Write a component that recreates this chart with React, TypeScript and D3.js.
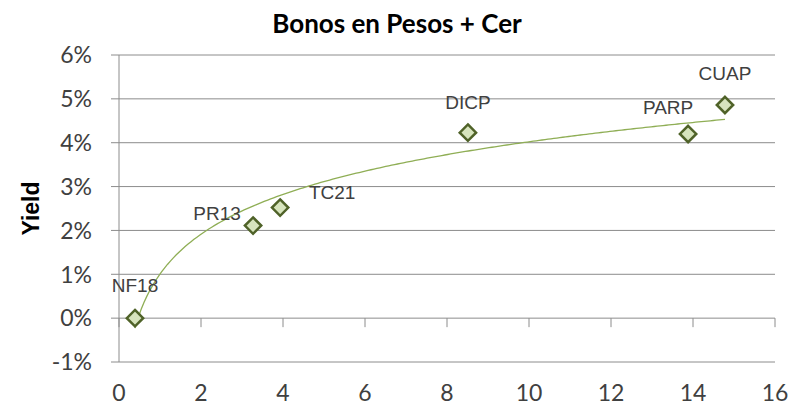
import React, { useEffect, useRef } from 'react';
import * as d3 from 'd3';

// bonds: duration (years) vs yield (%)
const names = ['NF18', 'PR13', 'TC21', 'DICP', 'PARP', 'CUAP'];
const durations = [0.39, 3.27, 3.93, 8.51, 13.88, 14.78];
const yields = [0.0, 2.11, 2.52, 4.23, 4.2, 4.86];
// hand-placed label offsets (px) as in the original
const labelDx = [0, -36, 52, 0, -20, 0];
const labelDy = [-33, -12, -15, -30, -27, -32];

const xTicks = [0, 2, 4, 6, 8, 10, 12, 14, 16];
const yTicks = [-1, 0, 1, 2, 3, 4, 5, 6];

const W = 793;
const H = 406;
const TICK_FONT = 'Lato, "Open Sans", sans-serif';
const LABEL_FONT = '"Liberation Sans", Arial, sans-serif';

const drawChart = (node) => {
	const svg = d3.select(node);
	svg.selectAll('*').remove();

	const x = d3.scaleLinear().domain([0, 16]).range([119, 775]);
	const y = d3.scaleLinear().domain([-1, 6]).range([362, 55]);

	// gridlines
	svg.append('g').selectAll('line').data(yTicks)
		.enter()
		.append('line')
		.attr('x1', x(0) - 8)
		.attr('x2', x(16))
		.attr('y1', (d) => y(d))
		.attr('y2', (d) => y(d))
		.attr('stroke', '#8c8c8c')
		.attr('stroke-width', 1);

	// y axis line
	svg.append('line')
		.attr('x1', x(0)).attr('x2', x(0))
		.attr('y1', y(6)).attr('y2', y(-1))
		.attr('stroke', '#8c8c8c');

	// x axis crossing at 0%
	svg.append('g').selectAll('line').data(xTicks)
		.enter()
		.append('line')
		.attr('x1', (d) => x(d))
		.attr('x2', (d) => x(d))
		.attr('y1', y(0))
		.attr('y2', y(0) + 9)
		.attr('stroke', '#8c8c8c');

	svg.append('g').selectAll('text').data(yTicks)
		.enter()
		.append('text')
		.attr('x', 92)
		.attr('y', (d) => y(d))
		.attr('dy', '0.36em')
		.attr('text-anchor', 'end')
		.attr('font-family', TICK_FONT)
		.attr('font-size', 23)
		.attr('fill', '#404040')
		.text((d) => `${ d }%`);

	svg.append('g').selectAll('text').data(xTicks)
		.enter()
		.append('text')
		.attr('x', (d) => x(d))
		.attr('y', 401)
		.attr('text-anchor', 'middle')
		.attr('font-family', TICK_FONT)
		.attr('font-size', 23)
		.attr('fill', '#404040')
		.text((d) => d);

	// logarithmic trendline, least squares on ln(x)
	const lx = durations.map((d) => Math.log(d));
	const mx = d3.mean(lx);
	const my = d3.mean(yields);
	const a = d3.sum(lx, (v, i) => (v - mx) * (yields[i] - my)) /
		d3.sum(lx, (v) => (v - mx) * (v - mx));
	const b = my - a * mx;
	const [x0, x1] = d3.extent(durations);
	const trend = d3.range(0, 201).map((i) => {
		const xv = x0 + (x1 - x0) * i / 200;
		return [xv, a * Math.log(xv) + b];
	});
	svg.append('path')
		.datum(trend)
		.attr('d', d3.line().x((d) => x(d[0])).y((d) => y(d[1])))
		.attr('fill', 'none')
		.attr('stroke', '#8fae55')
		.attr('stroke-width', 1.3);

	// markers
	const sym = d3.symbol().type(d3.symbolDiamond2).size(170);
	svg.append('g').selectAll('path').data(durations)
		.enter()
		.append('path')
		.attr('d', sym)
		.attr('transform', (d, i) => `translate(${ x(d) },${ y(yields[i]) })`)
		.attr('fill', '#d7e4bd')
		.attr('stroke', '#4f6228')
		.attr('stroke-width', 2.5);

	svg.append('g').selectAll('text').data(names)
		.enter()
		.append('text')
		.attr('x', (d, i) => x(durations[i]) + labelDx[i])
		.attr('y', (d, i) => y(yields[i]) + labelDy[i])
		.attr('dy', '0.36em')
		.attr('text-anchor', 'middle')
		.attr('font-family', LABEL_FONT)
		.attr('font-size', 19)
		.attr('fill', '#404040')
		.text((d) => d);

	svg.append('text')
		.attr('x', 397)
		.attr('y', 24)
		.attr('dy', '0.36em')
		.attr('text-anchor', 'middle')
		.attr('font-family', TICK_FONT)
		.attr('font-weight', 'bold')
		.attr('font-size', 26)
		.attr('fill', '#000')
		.text('Bonos en Pesos + Cer');

	svg.append('text')
		.attr('transform', `translate(31,${ y(2.5) }) rotate(-90)`)
		.attr('dy', '0.36em')
		.attr('text-anchor', 'middle')
		.attr('font-family', LABEL_FONT)
		.attr('font-weight', 'bold')
		.attr('font-size', 23)
		.attr('fill', '#000')
		.text('Yield');
};

const App = () => {
	const ref = useRef(null);

	useEffect(() => drawChart(ref.current));

	return (
		<svg ref={ ref } width={ W } height={ H }
			style={ { position: 'absolute', left: 0, top: 0, background: '#fff' } }/>
	);
};

export default App;
